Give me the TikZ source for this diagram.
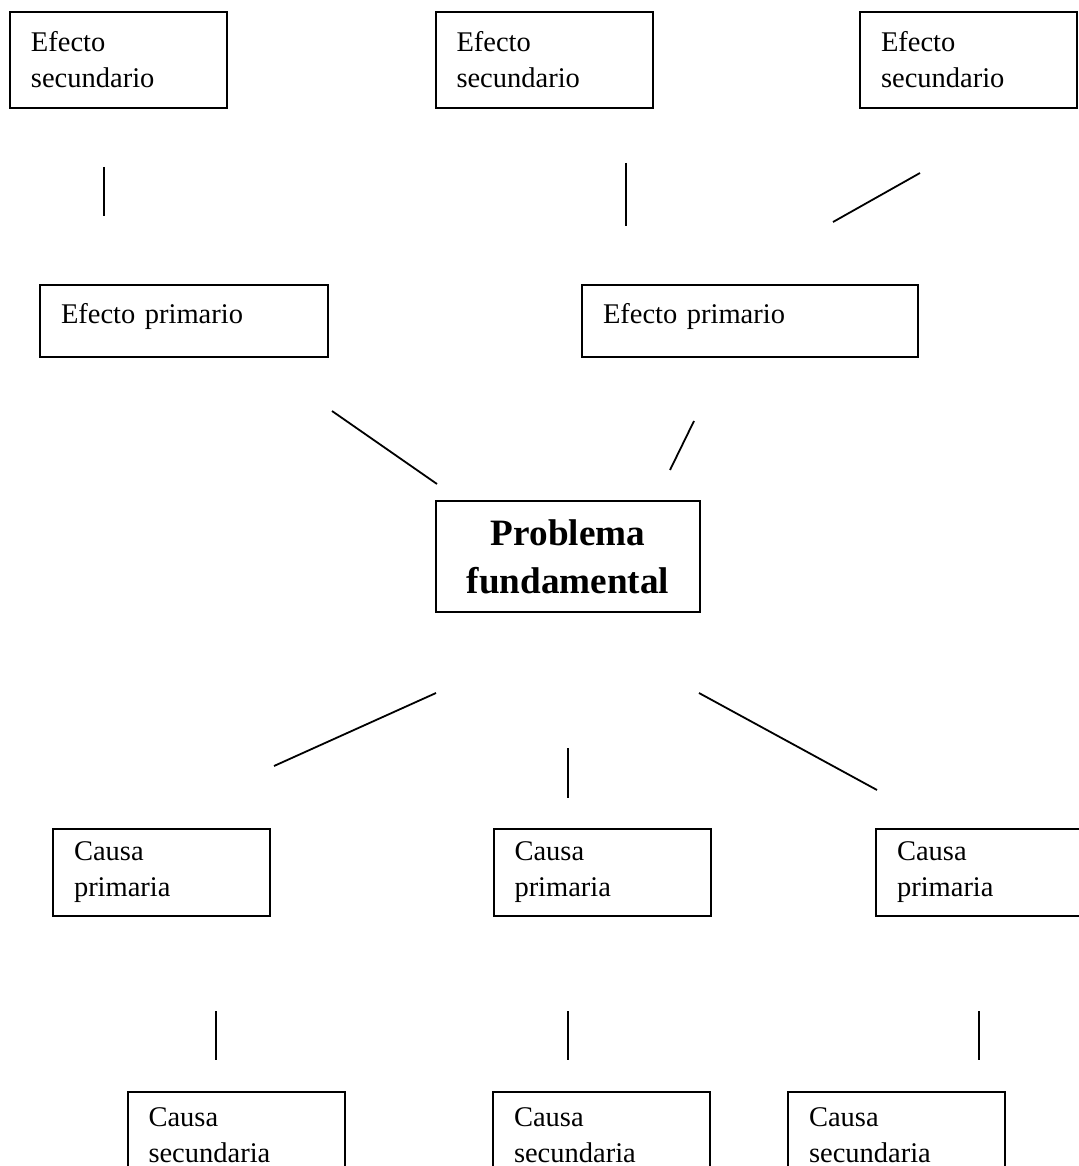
\documentclass[tikz,border=0pt]{standalone}
\usepackage{fontspec}
\setmainfont{Liberation Serif}
\begin{document}
\begin{tikzpicture}[x=0.5pt,y=-0.5pt,
    caja/.style={draw,line width=1pt,rectangle,align=left,inner xsep=10.5pt,inner ysep=0pt,
        text width=87.5pt,font=\fontsize{14.25}{18}\selectfont},
    sec/.style={caja,minimum height=48pt},
    pri/.style={caja,minimum height=36pt,text height=10pt,text depth=8pt},
    cau/.style={caja,minimum height=43.5pt},
    centro/.style={draw,line width=1pt,rectangle,align=center,inner sep=0pt,
        minimum width=132pt,minimum height=55.5pt,font=\bfseries\fontsize{18.6}{24}\selectfont},
    raya/.style={line width=0.9pt}]
    \useasboundingbox (0,0) rectangle (1079,1166);
    \clip (0,0) rectangle (1079,1166);
    % efectos secundarios
    \node[sec] (es1) at (118.5,60) {Efecto\\secundario};
    \node[sec] (es2) at (544,60)   {Efecto\\secundario};
    \node[sec] (es3) at (968.5,60) {Efecto\\secundario};
    % efectos primarios
    \node[pri,text width=123pt] (ep1) at (184,321) {Efecto primario};
    \node[pri,text width=147pt] (ep2) at (750,321) {Efecto primario};
    % problema
    \node[centro] (pf) at (568,556.5) {Problema\\fundamental};
    % causas
    \node[cau] (cp1) at (161.5,872.5) {Causa\\primaria};
    \node[cau] (cp2) at (602,872.5)   {Causa\\primaria};
    \node[cau] (cp3) at (984.5,872.5) {Causa\\primaria};
    \node[sec,minimum height=43pt] (cs1) at (236,1135)   {Causa\\secundaria};
    \node[sec,minimum height=43pt] (cs2) at (601.5,1135) {Causa\\secundaria};
    \node[sec,minimum height=43pt] (cs3) at (896.5,1135) {Causa\\secundaria};
    % trazos sueltos
    \foreach \nom/\xa/\ya/\xb/\yb in {r1/104/167/104/216, r2/626/163/626/226, r3/920/173/833/222,
        r4/332/411/437/484, r5/694/421/670/470, r6/436/693/274/766, r7/568/748/568/798,
        r8/699/693/877/790, r9/216/1011/216/1060, r10/568/1011/568/1060, r11/979/1011/979/1060}
    {
        \coordinate (\nom a) at (\xa,\ya);
        \coordinate (\nom b) at (\xb,\yb);
        \draw[raya] (\nom a) -- (\nom b);
    }
\end{tikzpicture}
\end{document}
